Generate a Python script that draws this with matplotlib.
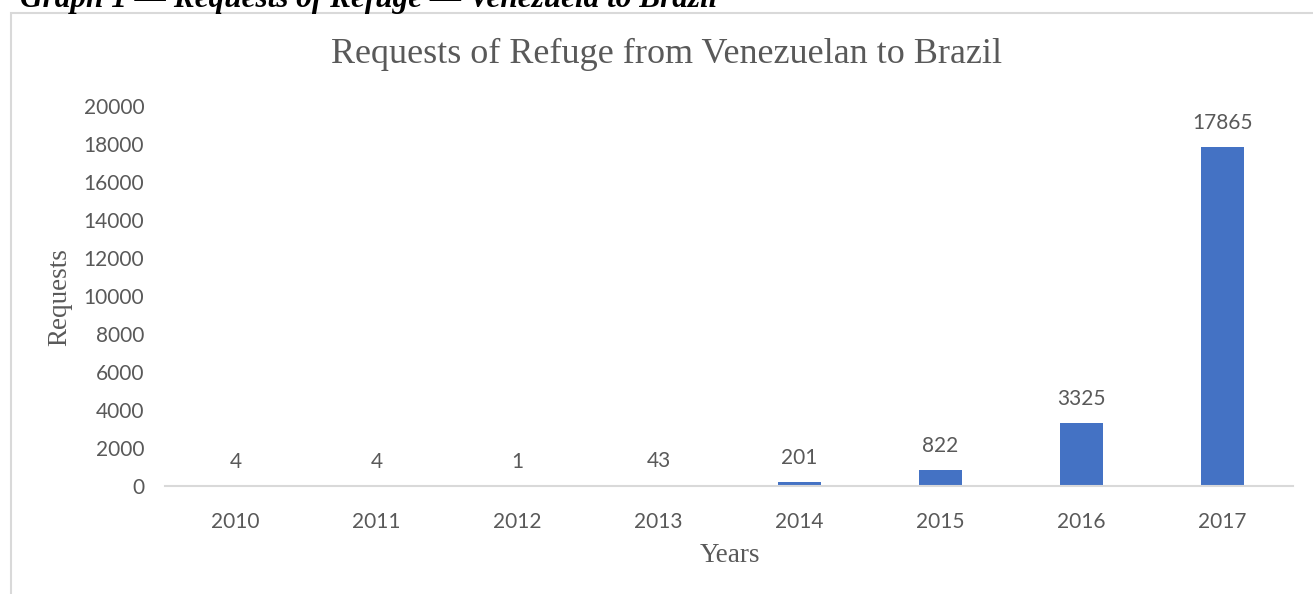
import matplotlib.pyplot as plt
from matplotlib.patches import Rectangle

years = ['2010', '2011', '2012', '2013', '2014', '2015', '2016', '2017']
requests = [4, 4, 1, 43, 201, 822, 3325, 17865]
yticks = [0, 2000, 4000, 6000, 8000, 10000, 12000, 14000, 16000, 18000, 20000]

W, H = 1313, 594
fig = plt.figure(figsize=(W / 100, H / 100), dpi=100)

# chart frame, cut by the page edges on the right and bottom
fig.patches.append(Rectangle((10.5 / W, -0.05), 1.2, (H - 12.5) / H + 0.05,
                             transform=fig.transFigure, fill=False,
                             edgecolor='#d9d9d9', linewidth=1.5))

# caption above the chart, half cut off in the source
fig.text(20 / W, 1 - 7 / H, 'Graph 1 \u2014 Requests of Refuge \u2014 Venezuela to Brazil',
         family='Liberation Serif', fontsize=22.5, fontweight='bold', style='italic',
         color='black', va='baseline', ha='left')

ax = fig.add_axes([165 / W, 1 - 486 / H, (1293 - 165) / W, (486 - 106) / H])
x = range(len(years))
ax.bar(x, requests, width=0.31, color='#4472c4')
ax.set_xlim(-0.5, len(years) - 0.5)
ax.set_ylim(0, 20000)
ax.set_xticks(list(x))
ax.set_xticklabels(years)
ax.set_yticks(yticks)
ax.set_yticklabels([str(v) for v in yticks])

gray = '#595959'
for sp in ['top', 'right', 'left']:
    ax.spines[sp].set_visible(False)
ax.spines['bottom'].set_color('#d9d9d9')
ax.spines['bottom'].set_linewidth(1.5)
ax.tick_params(length=0, labelsize=15, labelcolor=gray)
ax.tick_params(axis='y', pad=15)
ax.tick_params(axis='x', pad=19)
for lab in ax.get_xticklabels() + ax.get_yticklabels():
    lab.set_family('Lato')

for xi, v in zip(x, requests):
    ax.annotate(str(v), (xi, v), xytext=(0, 10), textcoords='offset points',
                ha='center', va='bottom', fontsize=15, color=gray, family='Lato')

fig.text(667 / W, 1 - 54 / H, 'Requests of Refuge from Venezuelan to Brazil',
         family='Liberation Serif', fontsize=26, color=gray, ha='center', va='center')
fig.text(60 / W, 1 - 297 / H, 'Requests', family='Liberation Serif', fontsize=19.5,
         color=gray, rotation=90, ha='center', va='center')
fig.text(730 / W, 1 - 555 / H, 'Years', family='Liberation Serif', fontsize=19.5,
         color=gray, ha='center', va='center')

fig.savefig('out.png', dpi=100)
